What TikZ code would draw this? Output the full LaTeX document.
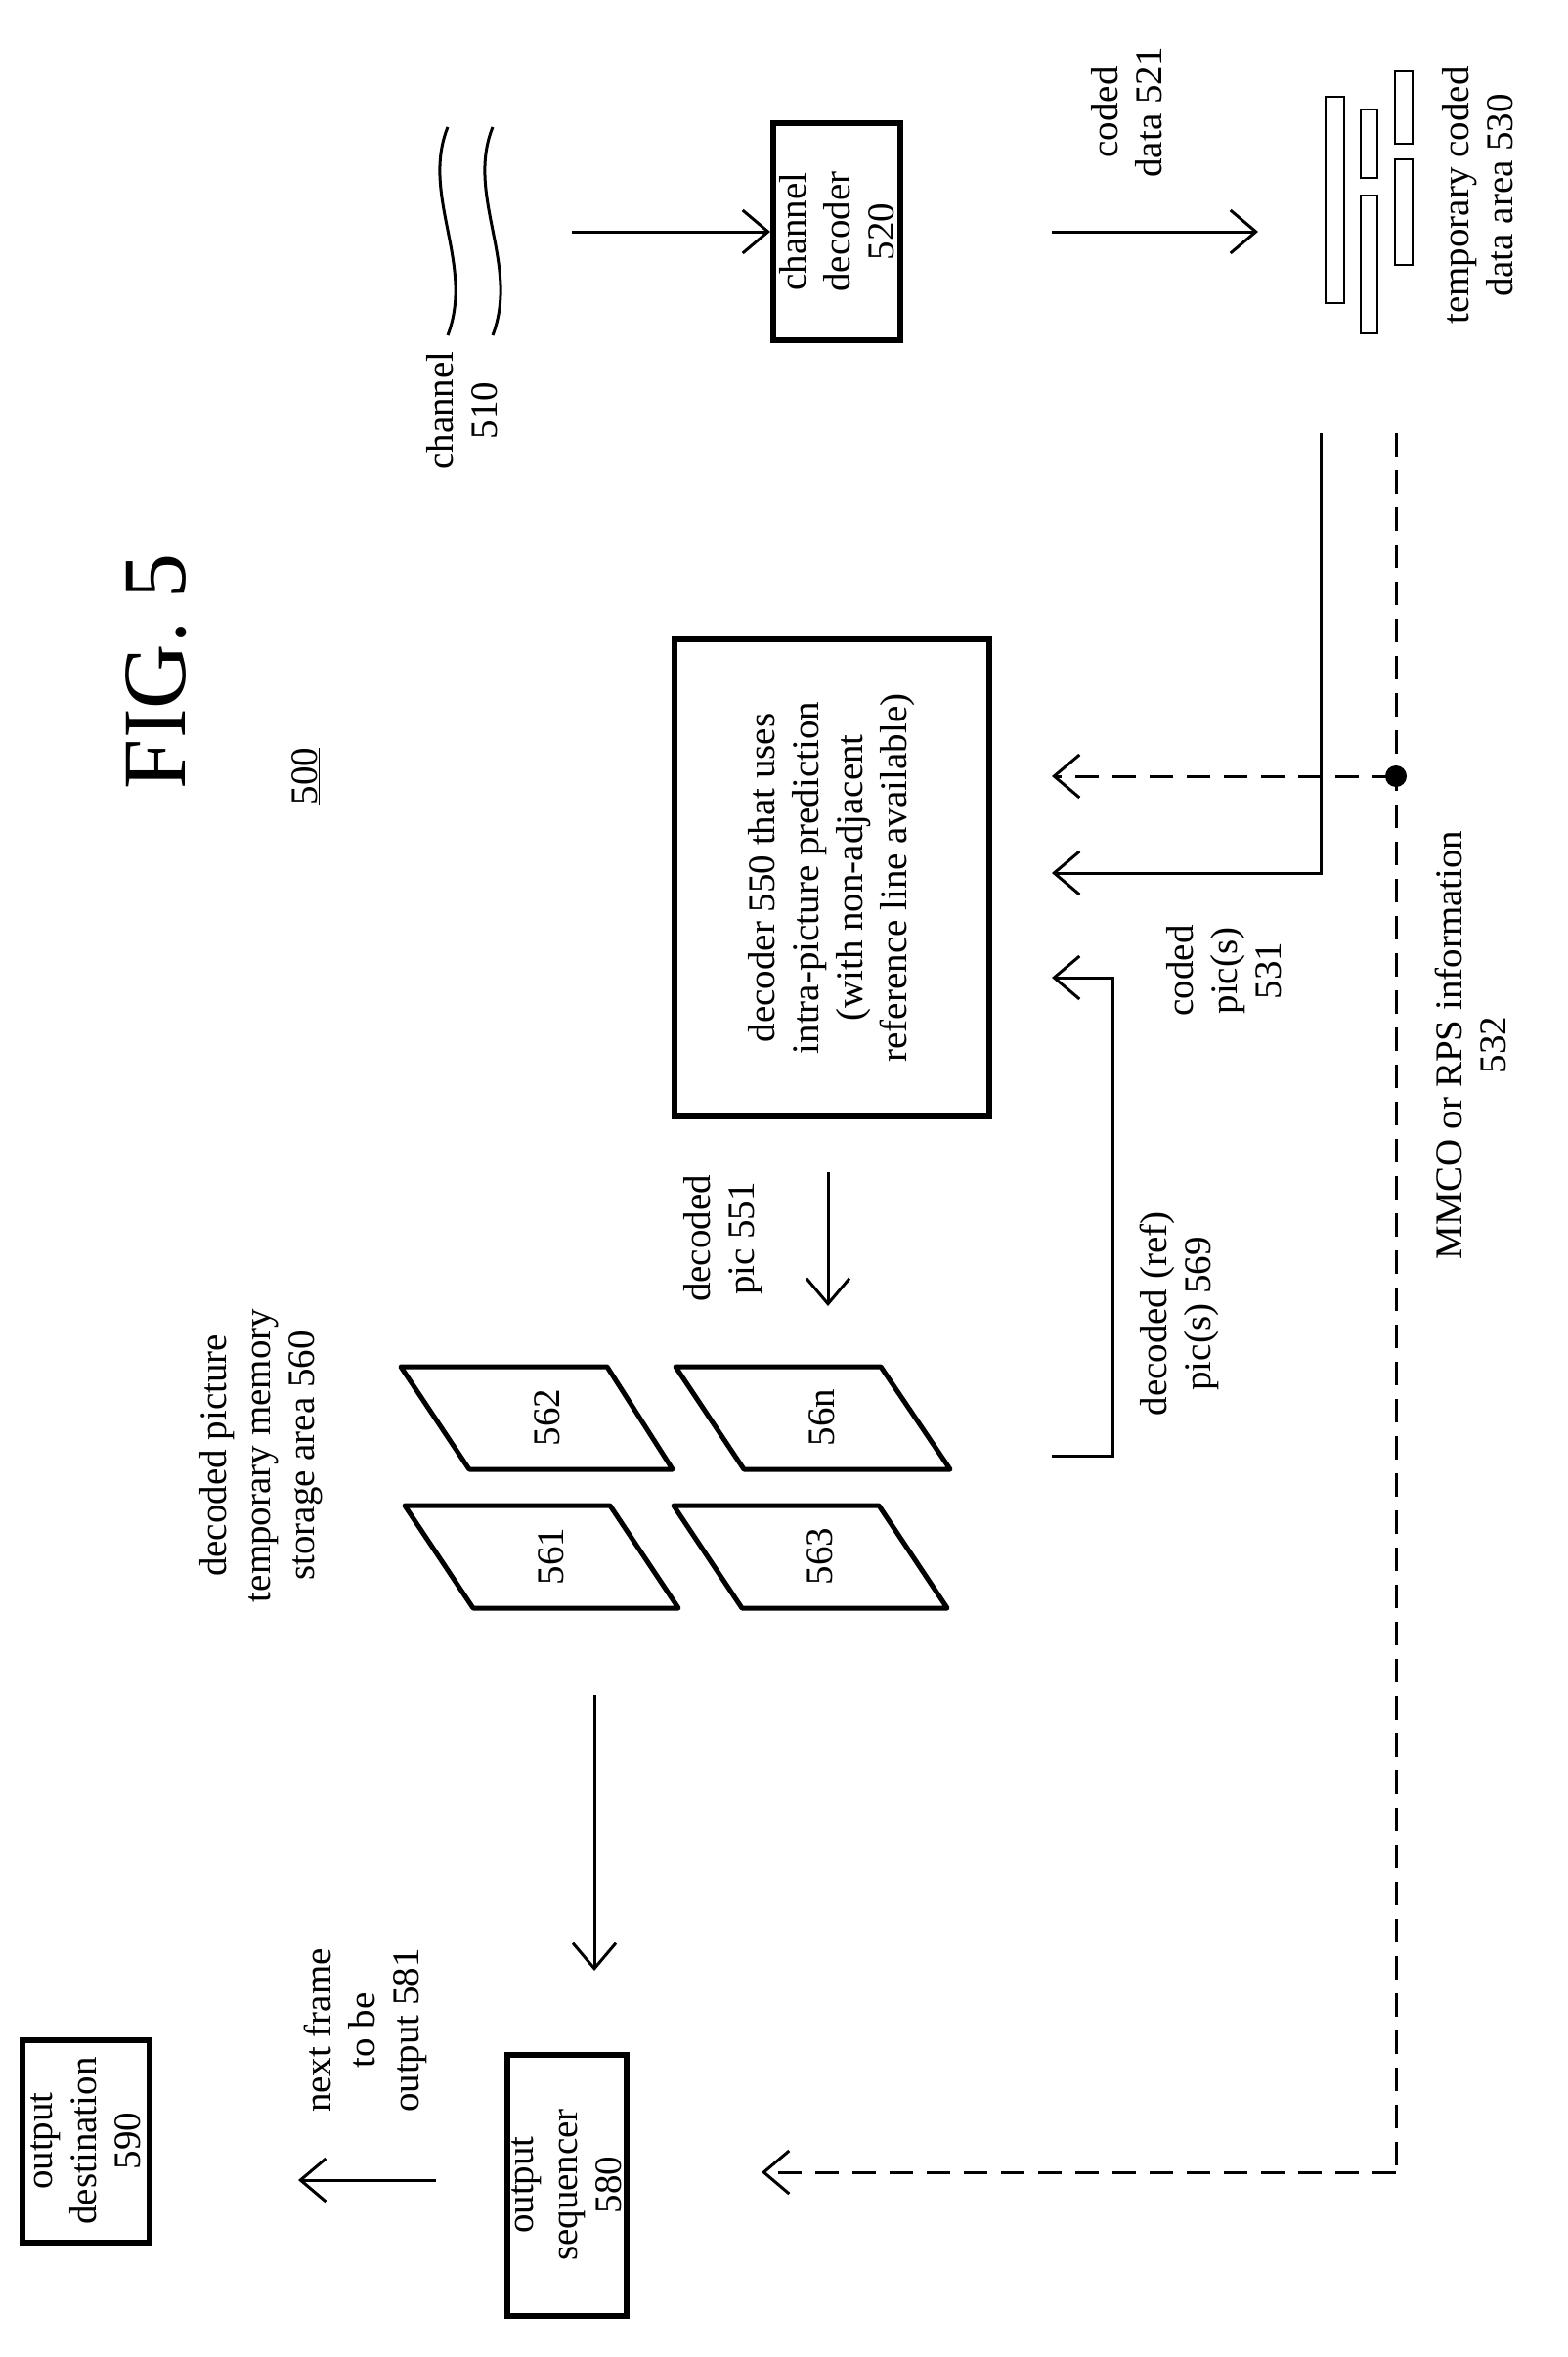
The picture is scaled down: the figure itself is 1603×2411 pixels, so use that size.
\documentclass[tikz,border=0pt]{standalone}
\usepackage{fontspec}
\setmainfont{Liberation Serif}
\usetikzlibrary{arrows.meta}
\begin{document}
\begin{tikzpicture}[x=1pt,y=-1pt,
  lab/.style={rotate=90,align=center,font=\fontsize{39}{45}\selectfont},
  box/.style={draw,line width=6pt},
  ln/.style={line width=3pt},
  arr/.style={ln,-{Straight Barb[length=26pt,width=44pt,line width=3pt]}},
  dsh/.style={dash pattern=on 24pt off 14pt},
  par/.style={line width=5pt,line join=round}]
\useasboundingbox (0,0) rectangle (1603,2411);
\node[rotate=90,font=\fontsize{92}{100}\selectfont] (fig) at (160,687) {FIG. 5};
\node[rotate=90,font=\fontsize{39}{45}\selectfont] (n500) at (313,794) {\underline{500}};
% channel
\draw[ln] (458,130) .. controls (430,200) and (486,270) .. (458,343);
\draw[ln] (504,130) .. controls (476,200) and (532,270) .. (504,343);
\node[lab] (chl) at (473,420) {channel\\510};
\node[box,minimum height=130pt,minimum width=221pt,lab,inner sep=0pt] (cd) at (856,237) {channel\\decoder\\520};
\coordinate (c1) at (585,237);
\draw[arr] (c1) -- (cd.north);
\coordinate (c2) at (1076,237); \coordinate (c3) at (1287,237);
\draw[arr] (c2) -- (c3);
\node[lab] (l521) at (1153,115) {coded\\data 521};
% temp area
\draw[line width=1.5pt] (1356,99) rectangle (1375,310);
\draw[line width=1.5pt] (1392,112) rectangle (1409,182);
\draw[line width=1.5pt] (1392,200) rectangle (1409,341);
\draw[line width=1.5pt] (1427,73) rectangle (1445,147);
\draw[line width=1.5pt] (1427,163) rectangle (1445,271);
\node[lab] (l530) at (1512,200) {temporary coded\\data area 530};
% decoder
\node[box,minimum height=322pt,minimum width=488pt,lab,inner sep=0pt] (dec) at (851,898) {decoder 550 that uses\\intra-picture prediction\\(with non-adjacent\\reference line available)};
\coordinate (p1) at (1351,443); \coordinate (p2) at (1351,893); \coordinate (p3) at (1076,893);
\draw[arr] (p1) -- (p2) -- (p3);
\node[lab] (l531) at (1252,993) {coded\\pic(s)\\531};
\coordinate (m1) at (1428,443); \coordinate (m2) at (1428,2222); \coordinate (m3) at (779,2222);
\coordinate (dot) at (1428,794); \coordinate (m4) at (1076,794);
\draw[ln,dsh] (m1) -- (m2);
\draw[arr,dsh] (m2) -- (m3);
\draw[arr,dsh] (dot) -- (m4);
\fill (dot) circle (11pt);
\node[lab] (l532) at (1504,1069) {MMCO or RPS information\\532};
% decoded pic
\coordinate (d1) at (847,1199); \coordinate (d2) at (847,1336);
\draw[arr] (d1) -- (d2);
\node[lab] (l551) at (740,1267) {decoded\\pic 551};
% buffers
\draw[par] (410,1398) -- (621,1398) -- (688,1503) -- (480,1503) -- cycle;
\draw[par] (414,1540) -- (624,1540) -- (694,1645) -- (484,1645) -- cycle;
\draw[par] (691,1398) -- (901,1398) -- (972,1503) -- (761,1503) -- cycle;
\draw[par] (689,1540) -- (899,1540) -- (969,1645) -- (759,1645) -- cycle;
\node[lab] (b562) at (560,1450) {562};
\node[lab] (b561) at (564,1592) {561};
\node[lab] (b56n) at (841,1450) {56n};
\node[lab] (b563) at (839,1592) {563};
\node[lab] (l560) at (267,1489) {decoded picture\\temporary memory\\storage area 560};
\coordinate (r1) at (1076,1489); \coordinate (r2) at (1138,1489); \coordinate (r3) at (1138,1000); \coordinate (r4) at (1076,1000);
\draw[arr] (r1) -- (r2) -- (r3) -- (r4);
\node[lab] (l569) at (1206,1344) {decoded (ref)\\pic(s) 569};
% output
\coordinate (o1) at (608,1734); \coordinate (o2) at (608,2016);
\draw[arr] (o1) -- (o2);
\node[box,minimum height=122pt,minimum width=267pt,lab,inner sep=0pt] (seq) at (580,2235) {output\\sequencer\\580};
\coordinate (q1) at (446,2230); \coordinate (q2) at (305,2230);
\draw[arr] (q1) -- (q2);
\node[lab] (l581) at (374,2077) {next frame\\to be\\output 581};
\node[box,minimum height=130pt,minimum width=207pt,lab,inner sep=0pt] (dst) at (88,2190) {output\\destination\\590};
\end{tikzpicture}
\end{document}
